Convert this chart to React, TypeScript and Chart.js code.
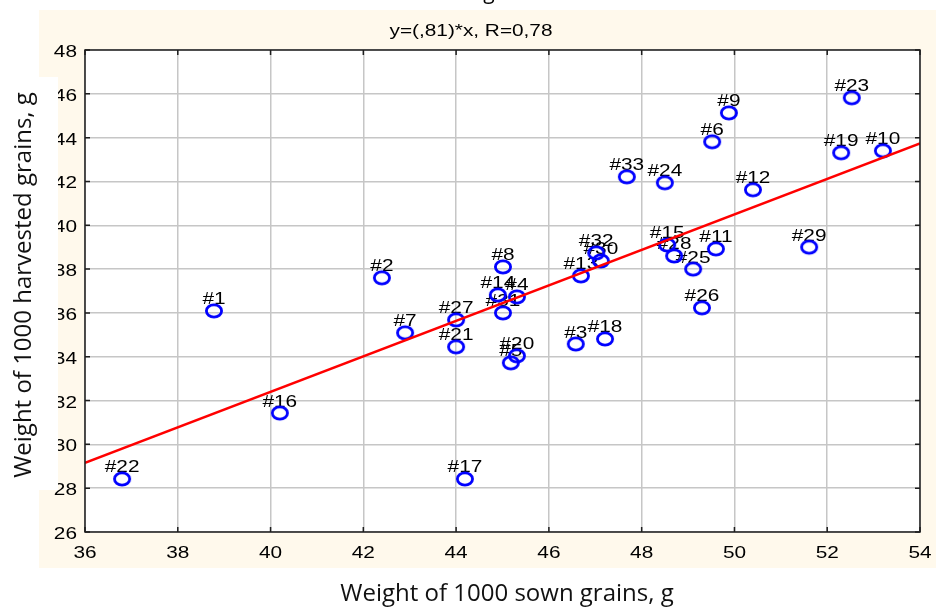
import React, { useEffect, useRef } from "react";
import { Chart, registerables } from "chart.js";

Chart.register(...registerables);

// ---------- data ----------
const pointIds = [
  1, 2, 3, 4, 5, 6, 7, 8, 9, 10, 11, 12, 13, 14, 15, 16, 17, 18, 19, 20, 21, 22,
  23, 24, 25, 26, 27, 28, 29, 30, 31, 32, 33,
];
const sownWeight = [
  38.78, 42.4, 46.58, 45.31, 45.18, 49.52, 42.9, 45.01, 49.88, 53.2, 49.6, 50.4,
  46.69, 44.9, 48.55, 40.2, 44.19, 47.21, 52.3, 45.31, 44.0, 36.8, 52.53, 48.5,
  49.11, 49.3, 44.0, 48.7, 51.61, 47.12, 45.01, 47.02, 47.68,
];
const harvestedWeight = [
  36.09, 37.6, 34.58, 36.73, 33.72, 43.81, 35.09, 38.1, 45.13, 43.4, 38.92,
  41.62, 37.69, 36.82, 39.1, 31.43, 28.42, 34.81, 43.31, 34.04, 34.45, 28.42,
  45.82, 41.94, 38.0, 36.23, 35.68, 38.6, 39.0, 38.37, 36.0, 38.74, 42.21,
];
const fitX = [36, 54];
const fitY = [29.16, 43.74];
const xTicks = [36, 38, 40, 42, 44, 46, 48, 50, 52, 54];
const yTicks = [26, 28, 30, 32, 34, 36, 38, 40, 42, 44, 46, 48];
const chartTitle = "y=(,81)*x, R=0,78";
const xTitle = "Weight of 1000 sown grains, g";
const yTitle = "Weight of 1000 harvested grains, g";

const SX = 1.3;
const LAB_FONT = "'Liberation Sans', Arial, sans-serif";
const TITLE_FONT = "'Open Sans', 'Noto Sans', sans-serif";

function stretched(
  ctx: CanvasRenderingContext2D,
  text: string,
  x: number,
  y: number,
  px: number,
  align: "left" | "center" | "right"
) {
  ctx.save();
  ctx.font = `${px}px ${LAB_FONT}`;
  ctx.textAlign = "left";
  ctx.textBaseline = "alphabetic";
  const w = ctx.measureText(text).width * SX;
  const left = align === "center" ? x - w / 2 : align === "right" ? x - w : x;
  ctx.translate(left, y);
  ctx.scale(SX, 1);
  ctx.fillStyle = "#000";
  ctx.fillText(text, 0, 0);
  ctx.restore();
}

function makeEllipse(): HTMLCanvasElement {
  const c = document.createElement("canvas");
  c.width = 22;
  c.height = 18;
  const g = c.getContext("2d")!;
  g.strokeStyle = "#0000ff";
  g.lineWidth = 2.8;
  g.beginPath();
  g.ellipse(11, 9, 7.6, 6.1, 0, 0, Math.PI * 2);
  g.stroke();
  return c;
}

const decorPlugin = {
  id: "decor",
  beforeDraw(chart: any) {
    const ctx: CanvasRenderingContext2D = chart.ctx;
    const a = chart.chartArea;
    ctx.save();
    ctx.fillStyle = "#ffffff";
    ctx.fillRect(0, 0, chart.width, chart.height);
    ctx.fillStyle = "#fff9ec";
    ctx.fillRect(39, 10, chart.width - 39, 558);
    ctx.fillStyle = "#ffffff";
    ctx.fillRect(a.left, a.top, a.right - a.left, a.bottom - a.top);
    // clipped title fragment at the top
    ctx.fillStyle = "#000";
    ctx.font = `21px ${TITLE_FONT}`;
    ctx.textAlign = "center";
    ctx.textBaseline = "alphabetic";
    ctx.fillText("g", 489, -1);
    ctx.restore();
  },
  beforeDatasetsDraw(chart: any) {
    const ctx: CanvasRenderingContext2D = chart.ctx;
    const xs = chart.scales.x;
    const ys = chart.scales.y;
    pointIds.forEach((id, i) => {
      const px = xs.getPixelForValue(sownWeight[i]);
      const py = ys.getPixelForValue(harvestedWeight[i]);
      stretched(ctx, "#" + id, px, py - 6.5, 16, "center");
    });
  },
  afterDraw(chart: any) {
    const ctx: CanvasRenderingContext2D = chart.ctx;
    const a = chart.chartArea;
    const xs = chart.scales.x;
    const ys = chart.scales.y;
    ctx.save();
    // frame
    ctx.strokeStyle = "#1e1e1e";
    ctx.lineWidth = 1.5;
    ctx.strokeRect(a.left, a.top, a.right - a.left, a.bottom - a.top);
    // inner ticks
    ctx.beginPath();
    xTicks.forEach((t) => {
      const x = xs.getPixelForValue(t);
      ctx.moveTo(x, a.bottom);
      ctx.lineTo(x, a.bottom - 5);
      ctx.moveTo(x, a.top);
      ctx.lineTo(x, a.top + 5);
    });
    yTicks.forEach((t) => {
      const y = ys.getPixelForValue(t);
      ctx.moveTo(a.left, y);
      ctx.lineTo(a.left + 5, y);
      ctx.moveTo(a.right, y);
      ctx.lineTo(a.right - 5, y);
    });
    ctx.stroke();
    ctx.restore();
    // tick labels
    yTicks.forEach((t) => {
      stretched(ctx, String(t), a.left - 8, ys.getPixelForValue(t) + 7, 16, "right");
    });
    xTicks.forEach((t) => {
      stretched(ctx, String(t), xs.getPixelForValue(t), a.bottom + 26, 16, "center");
    });
    // chart title
    stretched(ctx, chartTitle, 471, 36, 16, "center");
    // white box behind y title
    ctx.save();
    ctx.fillStyle = "#ffffff";
    ctx.fillRect(0, 77, 58, 413);
    ctx.fillStyle = "#111";
    ctx.font = `24px ${TITLE_FONT}`;
    ctx.textAlign = "center";
    ctx.textBaseline = "alphabetic";
    ctx.fillText(xTitle, 507, 601);
    ctx.translate(31, 285);
    ctx.rotate(-Math.PI / 2);
    ctx.fillText(yTitle, 0, 0);
    ctx.restore();
  },
};

export default function App() {
  const ref = useRef<HTMLCanvasElement | null>(null);
  useEffect(() => {
    if (!ref.current) return;
    const ellipse = makeEllipse();
    const chart = new Chart(ref.current, {
      type: "scatter",
      data: {
        datasets: [
          {
            type: "line",
            label: "fit",
            data: fitX.map((x, i) => ({ x, y: fitY[i] })),
            borderColor: "#ff0000",
            borderWidth: 2.5,
            pointRadius: 0,
            fill: false,
            order: 0,
          } as any,
          {
            label: "points",
            data: sownWeight.map((x, i) => ({ x, y: harvestedWeight[i] })),
            pointStyle: ellipse as any,
            pointRadius: 8,
            order: 1,
          },
        ],
      },
      options: {
        animation: false,
        responsive: false,
        devicePixelRatio: 1,
        layout: { padding: { left: 85, top: 50, right: 16, bottom: 80 } },
        plugins: {
          legend: { display: false },
          tooltip: { enabled: false },
          title: { display: false },
        },
        scales: {
          x: {
            type: "linear",
            min: 36,
            max: 54,
            ticks: { display: false, stepSize: 2 },
            grid: { color: "#c6c6c6", lineWidth: 1.5, drawTicks: false },
            border: { display: false },
          },
          y: {
            type: "linear",
            min: 26,
            max: 48,
            ticks: { display: false, stepSize: 2 },
            grid: { color: "#c6c6c6", lineWidth: 1.5, drawTicks: false },
            border: { display: false },
          },
        },
      },
      plugins: [decorPlugin],
    });
    return () => chart.destroy();
  }, []);
  return (
    <div style={{ position: "fixed", left: 0, top: 0, width: 936, height: 612 }}>
      <canvas ref={ref} width={936} height={612} />
    </div>
  );
}
